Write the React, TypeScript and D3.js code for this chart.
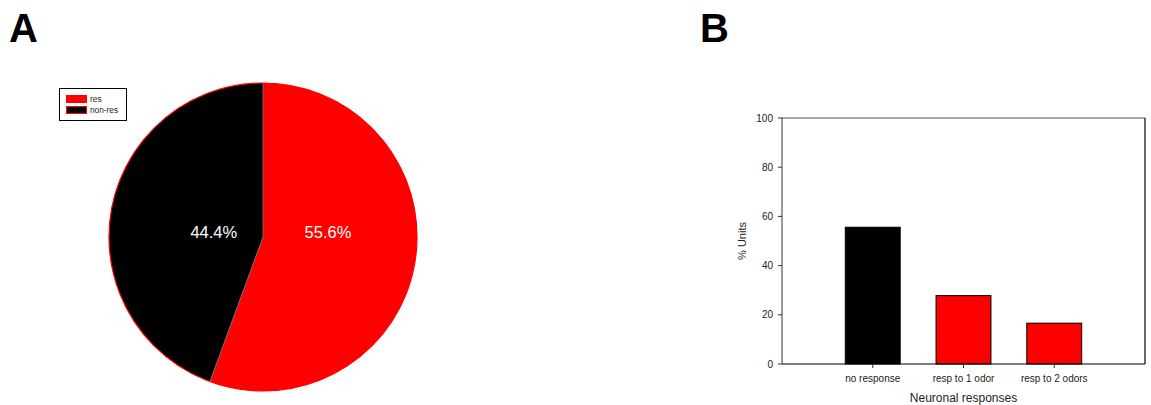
import React from "react";
import * as d3 from "d3";

// Panel A: proportion of responsive units
const pieLabels = ["res", "non-res"];
const pieValues = [55.6, 44.4];
const pieColors = ["#ff0000", "#000000"];

// Panel B: response categories
const barCategories = ["no response", "resp to 1 odor", "resp to 2 odors"];
const barValues = [55.6, 27.8, 16.6];
const barColors = ["#000000", "#ff0000", "#ff0000"];
const yTicks = [0, 20, 40, 60, 80, 100];

const W = 1151;
const H = 405;
const FONT = "'Liberation Sans', Arial, Helvetica, sans-serif";

export default function App() {
  // pie geometry
  const cx = 263;
  const cy = 237;
  const r = 154;
  const pie = d3.pie<number>().sort(null).value((d) => d);
  const arcs = pie(pieValues);
  const arcGen = d3.arc<d3.PieArcDatum<number>>().innerRadius(0).outerRadius(r);
  const labelRadius = [66, 50];

  // bar chart geometry
  const plot = { left: 782, right: 1145, top: 118, bottom: 364 };
  const step = (plot.right - plot.left) / (barCategories.length + 1);
  const x = d3
    .scalePoint<string>()
    .domain(barCategories)
    .range([plot.left + step, plot.right - step]);
  const y = d3.scaleLinear().domain([0, 100]).range([plot.bottom, plot.top]);
  const barW = step * 0.605;

  return (
    <svg
      width={W}
      height={H}
      style={{ position: "absolute", left: 0, top: 0, background: "#fff" }}
      fontFamily={FONT}
    >
      {/* panel letters */}
      <text x={9} y={42} fontSize={40} fontWeight="bold" fill="#000">
        A
      </text>
      <text x={700} y={42} fontSize={40} fontWeight="bold" fill="#000">
        B
      </text>

      {/* pie */}
      <g transform={`translate(${cx},${cy})`}>
        {arcs.map((a, i) => (
          <path key={i} d={arcGen(a) || ""} fill={pieColors[i]} />
        ))}
        {arcs.map((a, i) => (
          <line
            key={"sep" + i}
            x1={0}
            y1={0}
            x2={Math.sin(a.startAngle) * r}
            y2={-Math.cos(a.startAngle) * r}
            stroke="#777"
            strokeWidth={0.8}
          />
        ))}
        <circle r={r} fill="none" stroke="#ff0000" strokeWidth={1.2} />
        {arcs.map((a, i) => {
          const mid = (a.startAngle + a.endAngle) / 2;
          return (
            <text
              key={"lab" + i}
              x={Math.sin(mid) * labelRadius[i]}
              y={1}
              textAnchor="middle"
              fontSize={16.5}
              fill="#fff"
            >
              {pieValues[i].toFixed(1)}%
            </text>
          );
        })}
      </g>

      {/* pie legend */}
      <g>
        <rect x={59.5} y={88.5} width={67} height={32} fill="#fff" stroke="#000" strokeWidth={1} />
        {pieLabels.map((lab, i) => (
          <g key={lab} transform={`translate(66,${95 + i * 11})`}>
            <rect
              x={0.5}
              y={0.5}
              width={20}
              height={7}
              fill={pieColors[i]}
              stroke="#ff0000"
              strokeWidth={1}
            />
            <text x={24} y={7} fontSize={8.3} fill="#222">
              {lab}
            </text>
          </g>
        ))}
      </g>

      {/* bars */}
      {barCategories.map((c, i) => (
        <rect
          key={c}
          x={(x(c) as number) - barW / 2}
          y={y(barValues[i])}
          width={barW}
          height={plot.bottom - y(barValues[i])}
          fill={barColors[i]}
          stroke="#000"
          strokeWidth={1}
        />
      ))}

      {/* frame */}
      <line x1={plot.left} x2={plot.right} y1={plot.top} y2={plot.top} stroke="#555" strokeWidth={1.2} />
      <line x1={plot.right} x2={plot.right} y1={plot.top} y2={plot.bottom} stroke="#000" strokeWidth={1.2} />
      <line x1={plot.left} x2={plot.left} y1={plot.top} y2={plot.bottom} stroke="#555" strokeWidth={1.2} />
      <line x1={plot.left} x2={plot.right} y1={plot.bottom} y2={plot.bottom} stroke="#000" strokeWidth={1.2} />

      {/* y axis */}
      {yTicks.map((t) => (
        <g key={t}>
          <line x1={plot.left - 4} x2={plot.left} y1={y(t)} y2={y(t)} stroke="#333" strokeWidth={1} />
          <text x={plot.left - 9} y={y(t) + 3.5} textAnchor="end" fontSize={10} fill="#222">
            {t}
          </text>
        </g>
      ))}
      <text
        transform={`translate(746,${(plot.top + plot.bottom) / 2}) rotate(-90)`}
        textAnchor="middle"
        fontSize={11}
        fill="#222"
      >
        % Units
      </text>

      {/* x axis */}
      {barCategories.map((c) => (
        <g key={"xt" + c}>
          <line x1={x(c)} x2={x(c)} y1={plot.bottom} y2={plot.bottom + 4} stroke="#333" strokeWidth={1} />
          <text x={x(c)} y={382} textAnchor="middle" fontSize={10} fill="#222">
            {c}
          </text>
        </g>
      ))}
      <text x={(plot.left + plot.right) / 2} y={402} textAnchor="middle" fontSize={12} fill="#222">
        Neuronal responses
      </text>
    </svg>
  );
}
